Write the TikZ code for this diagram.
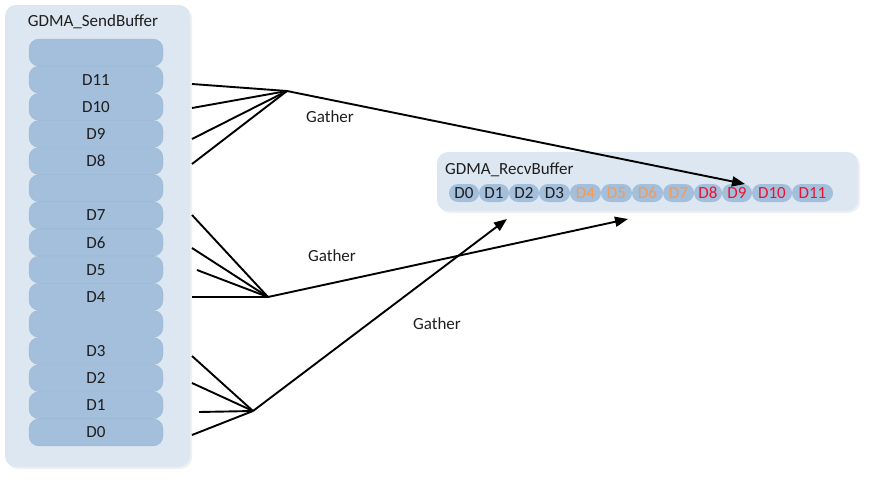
\documentclass[tikz,border=0pt]{standalone}
\usepackage{fontspec}
\setmainfont{Carlito}
\usetikzlibrary{arrows.meta,shadows}
\definecolor{panelc}{HTML}{DDE7F1}
\definecolor{cellc}{HTML}{A3BFDB}
\definecolor{celld}{HTML}{9AB6D2}
\definecolor{txtc}{HTML}{1E1E1E}
\definecolor{orng}{HTML}{F59A55}
\definecolor{redc}{HTML}{F01030}
\tikzset{
  panel/.style={fill=panelc, draw=none, rounded corners=11pt,
    drop shadow={shadow xshift=2pt, shadow yshift=-2pt, opacity=0.12}},
  sendcell/.style={fill=cellc, draw=celld, line width=0.3pt, rounded corners=10pt,
    minimum width=134pt, minimum height=27.1pt, inner sep=0pt,
    text=txtc, font=\fontsize{17}{17}\selectfont},
  recvcell/.style={fill=cellc, draw=none, rounded corners=9pt,
    minimum height=18pt, inner sep=0pt, font=\fontsize{17}{17}\selectfont},
  lbl/.style={font=\fontsize{17}{17}\selectfont, text=txtc, inner sep=0pt},
  wire/.style={line width=1.9pt, black},
  arr/.style={line width=1.9pt, black, -{Triangle[length=13pt,width=10pt]}}
}
\begin{document}
\begin{tikzpicture}[x=1pt,y=-1pt]
\useasboundingbox (0,0) rectangle (871,482);
% send buffer panel
\node[panel, minimum width=185pt, minimum height=462pt, inner sep=0pt] (sendpanel) at (97.5,236) {};
\node[lbl] (sendtitle) at (93,22) {GDMA\_SendBuffer};
\foreach \i/\t/\n in {0//e0,1/D11/s11,2/D10/s10,3/D9/s9,4/D8/s8,5//e1,6/D7/s7,7/D6/s6,8/D5/s5,9/D4/s4,10//e2,11/D3/s3,12/D2/s2,13/D1/s1,14/D0/s0}{
  \node[sendcell] (\n) at (96,{39+27.13*(\i+0.5)}) {\t};
}
% recv buffer panel
\node[panel, minimum width=421pt, minimum height=59pt, inner sep=0pt] (recvpanel) at (647.5,181.5) {};
\node[lbl, anchor=west] (recvtitle) at (445,170) {GDMA\_RecvBuffer};
\foreach \a/\b/\t/\c/\n in {449/479/D0/txtc/r0,479/509/D1/txtc/r1,509/539/D2/txtc/r2,539/570/D3/txtc/r3,570/601/D4/orng/r4,601/632/D5/orng/r5,632/663/D6/orng/r6,663/694/D7/orng/r7,694/722/D8/redc/r8,722/752/D9/redc/r9,752/792/D10/redc/r10,792/833/D11/redc/r11}{
  \node[recvcell, minimum width={\b-\a}, text=\c] (\n) at ({(\a+\b)/2},193) {\t};
}
% gather labels
\node[lbl] (g1) at (330,117) {Gather};
\node[lbl] (g2) at (332,256) {Gather};
\node[lbl] (g3) at (437,324) {Gather};
% line start points and junctions
\coordinate (p11) at (192,84);
\coordinate (p10) at (192,108);
\coordinate (p9) at (192,139);
\coordinate (p8) at (192,164);
\coordinate (p7) at (192,215);
\coordinate (p6) at (192,248);
\coordinate (p5) at (197,270);
\coordinate (p4) at (192,297);
\coordinate (p3) at (192,356);
\coordinate (p2) at (192,383);
\coordinate (p1) at (199,412);
\coordinate (p0) at (192,435);
\coordinate (ja) at (287,91);
\coordinate (jb) at (268,297);
\coordinate (jc) at (253,411);
\coordinate (ta) at (745,184);
\coordinate (tb) at (628,219);
\coordinate (tc) at (507,219);
\foreach \p in {p11,p10,p9,p8}{\draw[wire] (\p) -- (ja);}
\foreach \p in {p7,p6,p5,p4}{\draw[wire] (\p) -- (jb);}
\foreach \p in {p3,p2,p1,p0}{\draw[wire] (\p) -- (jc);}
\draw[arr] (ja) -- (ta);
\draw[arr] (jb) -- (tb);
\draw[arr] (jc) -- (tc);
\end{tikzpicture}
\end{document}
